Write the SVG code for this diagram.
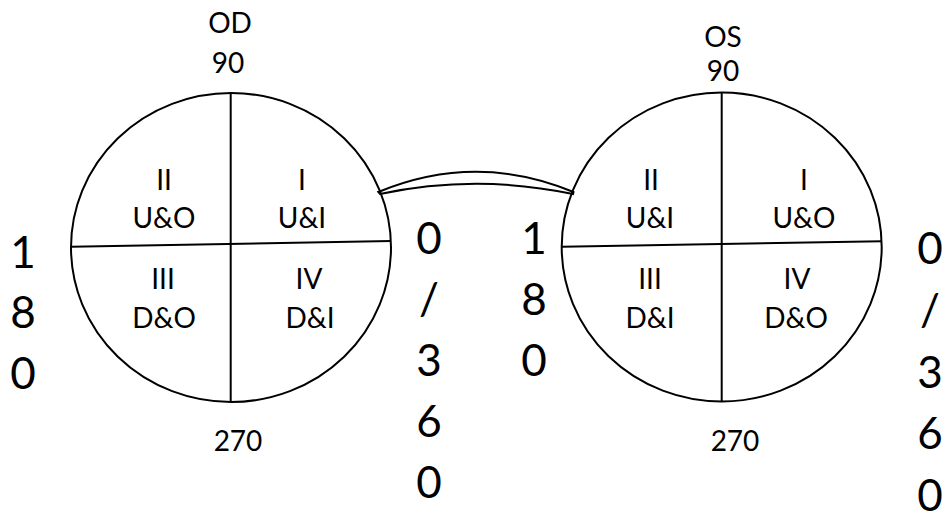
<svg xmlns="http://www.w3.org/2000/svg" width="948" height="521" viewBox="0 0 948 521">
<style>
.ln{fill:none;stroke:#000;stroke-width:2}
.t{font-family:Lato,"Liberation Sans",sans-serif;font-size:28px;fill:#000;text-anchor:middle}
.b{font-family:Lato,"Liberation Sans",sans-serif;font-size:44px;fill:#000;text-anchor:middle}
</style>
<rect width="948" height="521" fill="#fff"/>
<g id="od">
<ellipse class="ln" cx="231" cy="247.5" rx="160" ry="154.5" fill="#fff"/>
<line class="ln" x1="230.7" y1="93" x2="230.7" y2="402"/>
<line class="ln" x1="71" y1="246.7" x2="391" y2="241"/>
<text class="t" x="230" y="33">OD</text>
<text class="t" x="228" y="73">90</text>
<text class="t" x="238" y="451">270</text>
<text class="t" x="164" y="190">II</text>
<text class="t" x="164" y="228">U&amp;O</text>
<text class="t" x="302" y="190">I</text>
<text class="t" x="302" y="228">U&amp;I</text>
<text class="t" x="163" y="289">III</text>
<text class="t" x="164" y="328">D&amp;O</text>
<text class="t" x="309" y="289">IV</text>
<text class="t" x="310" y="328">D&amp;I</text>
</g>
<g id="os">
<ellipse class="ln" cx="721.7" cy="247" rx="160" ry="154.5" fill="#fff"/>
<line class="ln" x1="721.7" y1="93" x2="721.7" y2="402"/>
<line class="ln" x1="562" y1="246.7" x2="882" y2="241.3"/>
<text class="t" x="723" y="47">OS</text>
<text class="t" x="723" y="81">90</text>
<text class="t" x="735" y="451">270</text>
<text class="t" x="651" y="190">II</text>
<text class="t" x="650" y="228">U&amp;I</text>
<text class="t" x="804" y="190">I</text>
<text class="t" x="804" y="228">U&amp;O</text>
<text class="t" x="650" y="289">III</text>
<text class="t" x="650" y="328">D&amp;I</text>
<text class="t" x="797" y="289">IV</text>
<text class="t" x="796" y="328">D&amp;O</text>
</g>
<g id="connectors">
<path class="ln" d="M378.3,192 Q476,151.5 573.5,192 L573,194 Q476,173.6 380,194 Z" fill="#fff"/>
</g>
<g id="labels">
<text class="b" x="23" y="268">1</text>
<text class="b" x="23" y="328">8</text>
<text class="b" x="23" y="389">0</text>
<text class="b" x="429" y="254">0</text>
<text class="b" x="429" y="315">/</text>
<text class="b" x="429" y="376">3</text>
<text class="b" x="429" y="437">6</text>
<text class="b" x="429" y="498">0</text>
<text class="b" x="534" y="254">1</text>
<text class="b" x="534" y="315">8</text>
<text class="b" x="534" y="376">0</text>
<text class="b" x="930" y="264">0</text>
<text class="b" x="930" y="326">/</text>
<text class="b" x="930" y="388">3</text>
<text class="b" x="930" y="449">6</text>
<text class="b" x="930" y="511">0</text>
</g>
</svg>
